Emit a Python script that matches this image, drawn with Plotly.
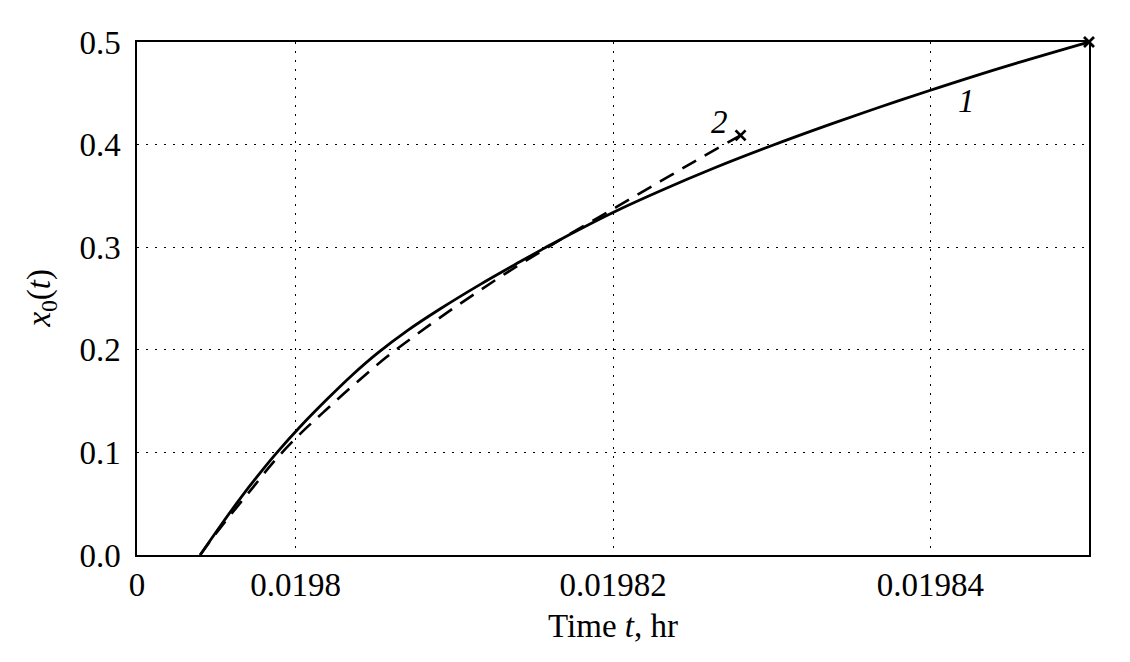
import plotly.graph_objects as go

# Curve 1 (solid)
t1 = [0.01979398, 0.01979524, 0.01979650, 0.01979776, 0.01979883, 0.01980028,
      0.01980199, 0.01980357, 0.01980514, 0.01980704, 0.01980912, 0.01981164,
      0.01981416, 0.01981562, 0.01981669, 0.01981997, 0.01982300, 0.01982634,
      0.01982994, 0.01983372, 0.01983688, 0.01983991, 0.01984445, 0.01985000]
x1 = [0.000, 0.028, 0.055, 0.080, 0.100, 0.125,
      0.152, 0.1755, 0.1965, 0.2187, 0.240, 0.2638,
      0.286, 0.2986, 0.3076, 0.3336, 0.355, 0.3769,
      0.3986, 0.4199, 0.4369, 0.4525, 0.4748, 0.500]

# Curve 2 (dashed)
t2 = [0.01979398, 0.01979461, 0.01979574, 0.01979726, 0.01979871, 0.01980041,
      0.01980174, 0.01980331, 0.01980565, 0.01980754, 0.01980943, 0.01981133,
      0.01981334, 0.01981543, 0.01981751, 0.01981965, 0.01982174, 0.01982363,
      0.01982552, 0.01982804]
x2 = [0.000, 0.0135, 0.036, 0.065, 0.0925, 0.120,
      0.139, 0.161, 0.192, 0.214, 0.235, 0.255,
      0.2755, 0.2955, 0.315, 0.334, 0.353, 0.370,
      0.387, 0.409]

x_tickvals = [0.01979, 0.0198, 0.01982, 0.01984]
x_ticktext = ["0", "0.0198", "0.01982", "0.01984"]
y_tickvals = [0.0, 0.1, 0.2, 0.3, 0.4, 0.5]
y_ticktext = ["0.0", "0.1", "0.2", "0.3", "0.4", "0.5"]

curve_labels = ["1", "2"]
label_t = [0.0198423, 0.0198267]
label_x = [0.4425, 0.422]

FONT = "Liberation Serif"
FS = 33

fig = go.Figure()
fig.add_trace(go.Scatter(x=t1, y=x1, mode="lines",
                         line=dict(color="black", width=2.8, shape="spline", smoothing=1.0),
                         showlegend=False, cliponaxis=False))
fig.add_trace(go.Scatter(x=t2, y=x2, mode="lines",
                         line=dict(color="black", width=2.6, dash="16px,10px", shape="spline", smoothing=1.0),
                         showlegend=False, cliponaxis=False))
fig.add_trace(go.Scatter(x=[t1[-1], t2[-1]], y=[x1[-1], x2[-1]], mode="markers",
                         marker=dict(symbol="x-thin", size=10, line=dict(color="black", width=2.8)),
                         showlegend=False, cliponaxis=False))

for lab, lt, lx in zip(curve_labels, label_t, label_x):
    fig.add_annotation(x=lt, y=lx, text="<i>" + lab + "</i>", showarrow=False,
                       font=dict(family=FONT, size=FS, color="black"),
                       xanchor="center", yanchor="middle")

fig.add_annotation(xref="paper", yref="paper", x=-0.0998, y=0.5,
                   text="<i>x</i><sub>0</sub>(<i>t</i>)", textangle=-90, showarrow=False,
                   font=dict(family=FONT, size=FS, color="black"),
                   xanchor="center", yanchor="middle")

fig.update_xaxes(range=[0.01979, 0.01985], tickvals=x_tickvals, ticktext=x_ticktext,
                 showgrid=True, gridcolor="black", gridwidth=1.3, griddash="2px,7px",
                 showline=True, linecolor="black", linewidth=1.5, mirror=True,
                 ticks="", ticklabelstandoff=0, zeroline=False,
                 tickfont=dict(family=FONT, size=FS, color="black"),
                 title=dict(text="Time <i>t</i>, hr", font=dict(family=FONT, size=FS, color="black"),
                            standoff=12))
fig.update_yaxes(range=[0, 0.5], tickvals=y_tickvals, ticktext=y_ticktext,
                 showgrid=True, gridcolor="black", gridwidth=1.3, griddash="2px,7px",
                 showline=True, linecolor="black", linewidth=1.5, mirror=True,
                 ticks="", ticklabelstandoff=8, zeroline=False,
                 tickfont=dict(family=FONT, size=FS, color="black"))

fig.update_layout(width=1122, height=654, margin=dict(l=129, r=41, t=34, b=107),
                  plot_bgcolor="white", paper_bgcolor="white",
                  font=dict(family=FONT, size=FS, color="black"))

fig.write_html("out.html")
